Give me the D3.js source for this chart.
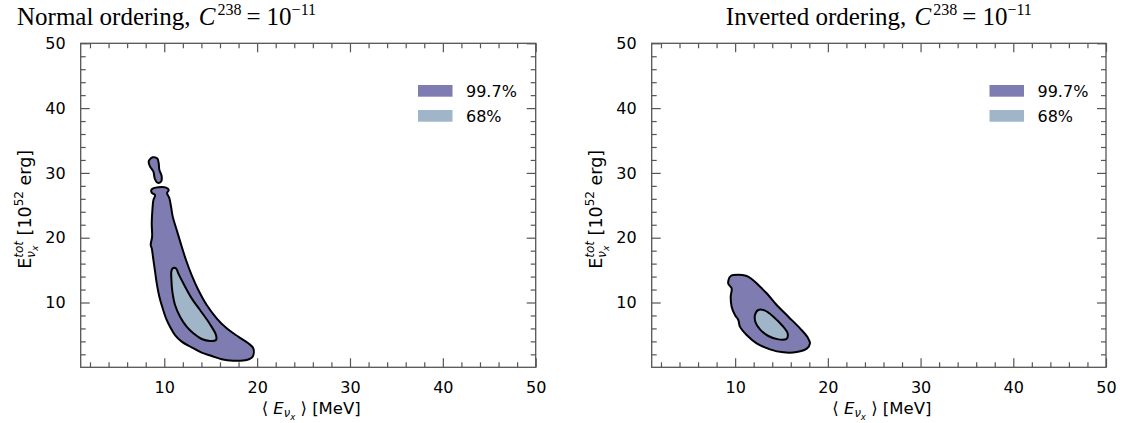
<!DOCTYPE html>
<html><head><meta charset="utf-8">
<script src="https://cdn.jsdelivr.net/npm/d3@7"></script>
<style>body{margin:0;background:#fff}svg{display:block}</style>
</head><body>
<svg id="chart" width="1126" height="423"></svg>
<script>
// ---- data ----
const xMajorTicks = [10, 20, 30, 40, 50];
const yMajorTicks = [10, 20, 30, 40, 50];
const xDomain = [1, 50];
const yDomain = [0, 50];
const legendLabels = ["99.7%", "68%"];

// Normal ordering: 99.7% region (main body + small island), 68% region
const normal997Main = [[8.64,27.46],[9.36,27.77],[10.19,27.72],[10.48,27.36],[10.30,26.90],[10.55,26.08],[10.73,24.79],[10.91,23.25],[11.34,21.19],[11.77,19.13],[12.34,16.56],[12.95,14.24],[13.67,11.93],[14.57,9.61],[15.64,7.56],[16.72,6.01],[17.97,4.73],[19.05,3.70],[19.59,2.93],[19.52,1.64],[18.87,1.13],[17.44,1.02],[16.18,1.23],[15.11,1.74],[14.03,2.26],[12.95,3.08],[11.88,3.96],[11.16,4.98],[10.62,6.27],[10.19,7.56],[9.83,9.10],[9.47,10.90],[9.19,12.96],[9.01,14.76],[8.83,16.56],[8.65,18.36],[8.54,18.87],[8.69,20.16],[8.65,22.22],[8.72,24.27],[8.83,25.82],[9.01,26.59],[8.65,26.95]];
const normal997Island = [[8.39,31.99],[8.75,32.40],[9.25,32.23],[9.40,31.48],[9.47,30.45],[9.72,29.52],[9.65,28.65],[9.25,28.49],[8.97,29.16],[8.83,30.19],[8.47,30.96],[8.32,31.73]];
const normal68 = [[10.90,15.27],[11.26,15.27],[11.51,14.50],[12.05,12.96],[12.95,10.64],[13.85,8.84],[14.86,6.79],[15.57,4.98],[15.57,4.21],[14.93,4.06],[14.03,4.37],[13.13,5.24],[12.41,6.27],[11.70,7.81],[11.16,9.61],[10.87,11.67],[10.76,13.73],[10.76,14.76]];

// Inverted ordering
const inverted997 = [[9.27,13.37],[9.52,14.09],[11.17,14.14],[11.78,13.63],[12.50,12.70],[13.40,11.42],[14.48,9.61],[15.74,7.81],[17.00,6.01],[17.82,4.62],[18.07,3.70],[17.72,2.88],[16.64,2.36],[15.20,2.31],[13.76,2.77],[12.32,3.70],[11.24,4.98],[10.52,6.27],[10.34,7.30],[9.98,8.07],[9.62,9.36],[9.52,10.90],[9.62,12.19],[9.27,12.85]];
const inverted68 = [[12.14,8.07],[12.50,8.84],[13.22,8.74],[14.12,7.81],[15.02,6.53],[15.66,5.24],[15.56,4.42],[14.66,4.31],[13.58,4.83],[12.68,5.86],[12.21,6.89]];

const colors = {c997: "#7f7cb1", c68: "#a0b5c8"};

const panels = [
  {left: 80.7, right: 535.7, title: "Normal ordering, ", titleAnchor: "start", titleX: 17,
   r997: [normal997Main, normal997Island], r68: [normal68], legendX: 418},
  {left: 651.7, right: 1106, title: "Inverted ordering, ", titleAnchor: "middle", titleX: null,
   r997: [inverted997], r68: [inverted68], legendX: 989.5}
];
const plotTop = 43.3, plotBottom = 367.3;

const svg = d3.select("#chart");
svg.append("rect").attr("width",1126).attr("height",423).attr("fill","#fff");

const sans = "DejaVu Sans, sans-serif";
const serif = "Liberation Serif, DejaVu Serif, serif";
const axisColor = "#555";

panels.forEach(p => {
  const x = d3.scaleLinear().domain(xDomain).range([p.left, p.right]);
  const y = d3.scaleLinear().domain(yDomain).range([plotBottom, plotTop]);
  const g = svg.append("g");
  const line = d3.line().x(d => x(d[0])).y(d => y(d[1])).curve(d3.curveCatmullRomClosed.alpha(0.5));

  p.r997.forEach(r => g.append("path").attr("d", line(r)).attr("fill", colors.c997)
    .attr("stroke", "#000").attr("stroke-width", 2).attr("stroke-linejoin","round"));
  p.r68.forEach(r => g.append("path").attr("d", line(r)).attr("fill", colors.c68)
    .attr("stroke", "#000").attr("stroke-width", 2).attr("stroke-linejoin","round"));

  const xMinor = d3.range(2, 50, 2).filter(v => !xMajorTicks.includes(v));
  const yMinor = d3.range(2, 50, 2).filter(v => !yMajorTicks.includes(v));
  const W = p.right - p.left, H = plotBottom - plotTop;

  g.append("g").attr("transform", `translate(0,${plotBottom})`)
    .call(d3.axisBottom(x).tickValues(xMajorTicks).tickSizeInner(-9).tickSizeOuter(0).tickPadding(14).tickFormat(d3.format("d")));
  g.append("g").attr("transform", `translate(0,${plotBottom})`)
    .call(d3.axisBottom(x).tickValues(xMinor).tickSizeInner(-5).tickSizeOuter(0).tickFormat(""));
  g.append("g").attr("transform", `translate(0,${plotTop})`)
    .call(d3.axisTop(x).tickValues(xMajorTicks).tickSizeInner(-9).tickSizeOuter(0).tickFormat(""));
  g.append("g").attr("transform", `translate(0,${plotTop})`)
    .call(d3.axisTop(x).tickValues(xMinor).tickSizeInner(-5).tickSizeOuter(0).tickFormat(""));
  g.append("g").attr("transform", `translate(${p.left},0)`)
    .call(d3.axisLeft(y).tickValues(yMajorTicks).tickSizeInner(-9).tickSizeOuter(0).tickPadding(15).tickFormat(d3.format("d")));
  g.append("g").attr("transform", `translate(${p.left},0)`)
    .call(d3.axisLeft(y).tickValues(yMinor).tickSizeInner(-5).tickSizeOuter(0).tickFormat(""));
  g.append("g").attr("transform", `translate(${p.right},0)`)
    .call(d3.axisRight(y).tickValues(yMajorTicks).tickSizeInner(-9).tickSizeOuter(0).tickFormat(""));
  g.append("g").attr("transform", `translate(${p.right},0)`)
    .call(d3.axisRight(y).tickValues(yMinor).tickSizeInner(-5).tickSizeOuter(0).tickFormat(""));

  g.selectAll(".domain").remove();
  g.selectAll(".tick line").attr("stroke", axisColor).attr("stroke-width", 1.2);
  g.selectAll(".tick text").attr("font-family", sans).attr("font-size", 16).attr("fill", "#000");

  g.append("rect").attr("x", p.left).attr("y", plotTop).attr("width", W).attr("height", H)
    .attr("fill", "none").attr("stroke", axisColor).attr("stroke-width", 1.3);

  // title
  const tx = p.titleX == null ? (p.left + p.right) / 2 : p.titleX;
  const t = svg.append("text").attr("x", tx).attr("y", 25).attr("text-anchor", p.titleAnchor)
    .attr("font-family", serif).attr("font-size", 25).attr("fill", "#000");
  t.append("tspan").text(p.title);
  t.append("tspan").attr("font-style", "italic").attr("dx", 2).text("C");
  t.append("tspan").attr("font-size", 16).attr("dy", -10).attr("dx", 2).text("238");
  t.append("tspan").attr("dy", 10).attr("dx", 5).text("=");
  t.append("tspan").attr("dx", 6).text("10");
  t.append("tspan").attr("font-size", 16).attr("dy", -10).text("\u221211");

  // x label
  const cx = (p.left + p.right) / 2 + 3;
  const xl = svg.append("text").attr("x", cx).attr("y", 414).attr("text-anchor", "middle")
    .attr("font-family", sans).attr("font-size", 16.5).attr("fill", "#000");
  xl.append("tspan").text("\u27E8 ");
  xl.append("tspan").attr("font-style", "italic").text("E");
  xl.append("tspan").attr("font-style", "italic").attr("font-size", 11.5).attr("dy", 3).text("\u03BD");
  xl.append("tspan").attr("font-style", "italic").attr("font-size", 8.5).attr("dy", 2.5).text("x");
  xl.append("tspan").attr("dy", -5.5).text(" \u27E9 [MeV]");

  // y label
  const cy = (plotTop + plotBottom) / 2 + 4;
  const ylx = p.left - 50;
  const yl = svg.append("text").attr("transform", `translate(${ylx},${cy}) rotate(-90)`)
    .attr("text-anchor", "middle").attr("font-family", sans).attr("font-size", 17.5).attr("fill", "#000");
  yl.append("tspan").text("E");
  const supT = yl.append("tspan").attr("font-style", "italic").attr("font-size", 12).attr("dy", -8).text("tot");
  const supLen = supT.node().getComputedTextLength();
  const nu = yl.append("tspan").attr("font-style", "italic").attr("font-size", 12).attr("dx", -supLen).attr("dy", 12).text("\u03BD");
  const xs = yl.append("tspan").attr("font-style", "italic").attr("font-size", 9).attr("dy", 3).text("x");
  const subLen = nu.node().getComputedTextLength() + xs.node().getComputedTextLength();
  yl.append("tspan").attr("dx", Math.max(0, supLen - subLen)).attr("dy", -7).text(" [10");
  yl.append("tspan").attr("font-size", 12).attr("dy", -8).text("52");
  yl.append("tspan").attr("dy", 8).text(" erg]");

  // legend
  const lg = svg.append("g");
  [colors.c997, colors.c68].forEach((c, i) => {
    lg.append("rect").attr("x", p.legendX).attr("y", 85 + i * 25).attr("width", 34.5).attr("height", 11.7).attr("fill", c);
    lg.append("text").attr("x", p.legendX + 48).attr("y", 96.8 + i * 25).attr("font-family", sans)
      .attr("font-size", 16).attr("fill", "#000").text(legendLabels[i]);
  });
});
</script>
</body></html>
